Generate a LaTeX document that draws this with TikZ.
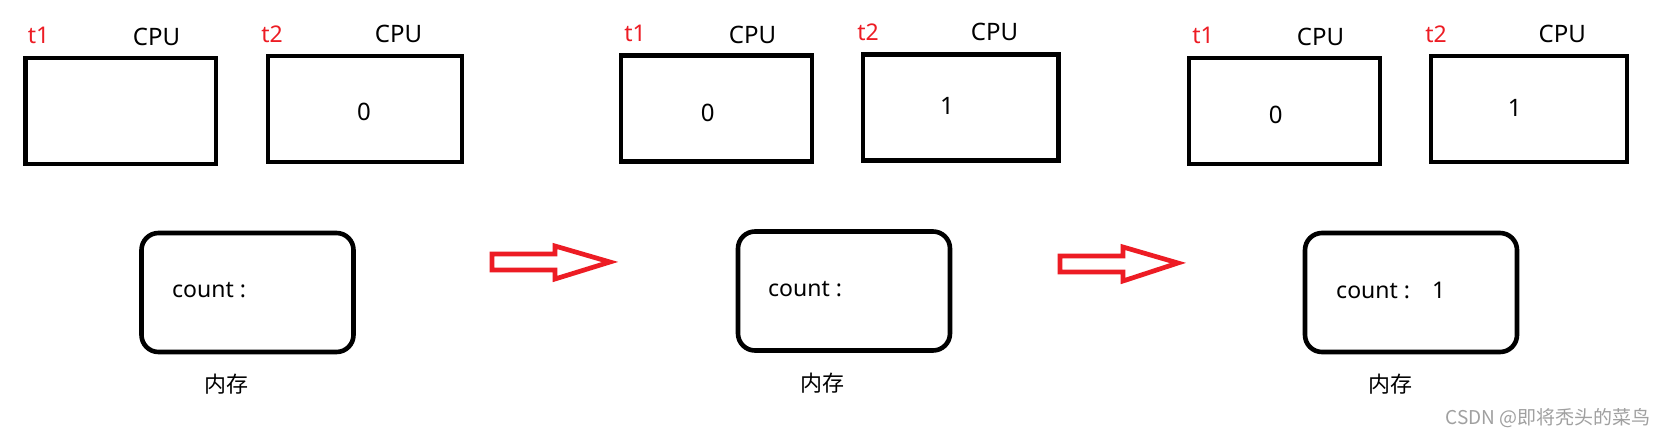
\documentclass[tikz,border=0pt]{standalone}
\usepackage{fontspec}
\setmainfont{Noto Sans}
\newfontfamily\cjk{Noto Sans CJK SC}
\definecolor{pred}{RGB}{237,28,36}
\definecolor{wmgray}{RGB}{160,160,160}
\begin{document}
\begin{tikzpicture}[x=1pt,y=-1pt,
  cpubox/.style={draw=black,line width=4.3pt,minimum width=#1,minimum height=106pt,inner sep=0pt},
  membox/.style={draw=black,line width=4.6pt,rounded corners=17pt,minimum width=212pt,minimum height=119pt,inner sep=0pt},
  tlabel/.style={text=pred,font=\fontsize{23}{25}\selectfont,inner sep=0pt},
  cpulabel/.style={font=\fontsize{24}{26}\selectfont,inner sep=0pt},
  val/.style={font=\fontsize{24}{26}\selectfont,inner sep=0pt},
  cnt/.style={font=\fontsize{23}{25}\selectfont,inner sep=0pt,anchor=base west},
  memlabel/.style={font=\cjk\fontsize{22}{24}\selectfont,inner sep=0pt},
  blockarrow/.style={draw=pred,line width=4.7pt,line join=miter}
]
\useasboundingbox (0,0) rectangle (1666,437);
\fill[white] (0,0) rectangle (1666,437);

% Panel 1
\node[tlabel] (p1t1) at (38.5,35) {t1};
\node[cpulabel] (p1c1) at (156.5,37) {CPU};
\node[cpubox=190.5pt] (p1b1) at (120.7,111) {};
\node[tlabel] (p1t2) at (272,34) {t2};
\node[cpulabel] (p1c2) at (398.5,34) {CPU};
\node[cpubox=194.5pt] (p1b2) at (365,109) {};
\node[val] (p1v2) at (364,112) {0};
\node[membox] (p1m) at (247.5,292.5) {};
\node[cnt] (p1cnt) at (172,297) {count :};
\node[memlabel] (p1ml) at (226,384) {内存};

% Arrow 1
\draw[blockarrow] (492,254) -- (555,254) -- (555,246) -- (610,262) -- (555,279) -- (555,270) -- (492,270) -- cycle;

% Panel 2
\node[tlabel] (p2t1) at (635,33) {t1};
\node[cpulabel] (p2c1) at (752.5,35) {CPU};
\node[cpubox=191pt] (p2b1) at (716.6,108.5) {};
\node[val] (p2v1) at (707.7,113) {0};
\node[tlabel] (p2t2) at (868,32) {t2};
\node[cpulabel] (p2c2) at (994.5,32) {CPU};
\node[cpubox=195.4pt] (p2b2) at (960.9,107.5) {};
\node[val] (p2v2) at (947,106) {1};
\node[membox] (p2m) at (844,291) {};
\node[cnt] (p2cnt) at (768,296) {count :};
\node[memlabel] (p2ml) at (822,383) {内存};

% Arrow 2
\draw[blockarrow] (1060,256) -- (1123,256) -- (1123,247) -- (1178,263) -- (1123,281) -- (1123,272) -- (1060,272) -- cycle;

% Panel 3
\node[tlabel] (p3t1) at (1203,35) {t1};
\node[cpulabel] (p3c1) at (1320.5,37) {CPU};
\node[cpubox=191pt] (p3b1) at (1284.7,111) {};
\node[val] (p3v1) at (1275.8,115) {0};
\node[tlabel] (p3t2) at (1436,34) {t2};
\node[cpulabel] (p3c2) at (1562.3,34) {CPU};
\node[cpubox=195.5pt] (p3b2) at (1529,109) {};
\node[val] (p3v2) at (1514.8,108) {1};
\node[membox] (p3m) at (1411,292.5) {};
\node[cnt] (p3cnt) at (1336,298) {count :\hspace{22pt}1};
\node[memlabel] (p3ml) at (1390,384) {内存};

% Watermark
\node[anchor=east,text=wmgray,font=\cjk\fontsize{19}{21}\selectfont,inner sep=0pt] (wm) at (1651,418) {CSDN @即将秃头的菜鸟};
\end{tikzpicture}
\end{document}
